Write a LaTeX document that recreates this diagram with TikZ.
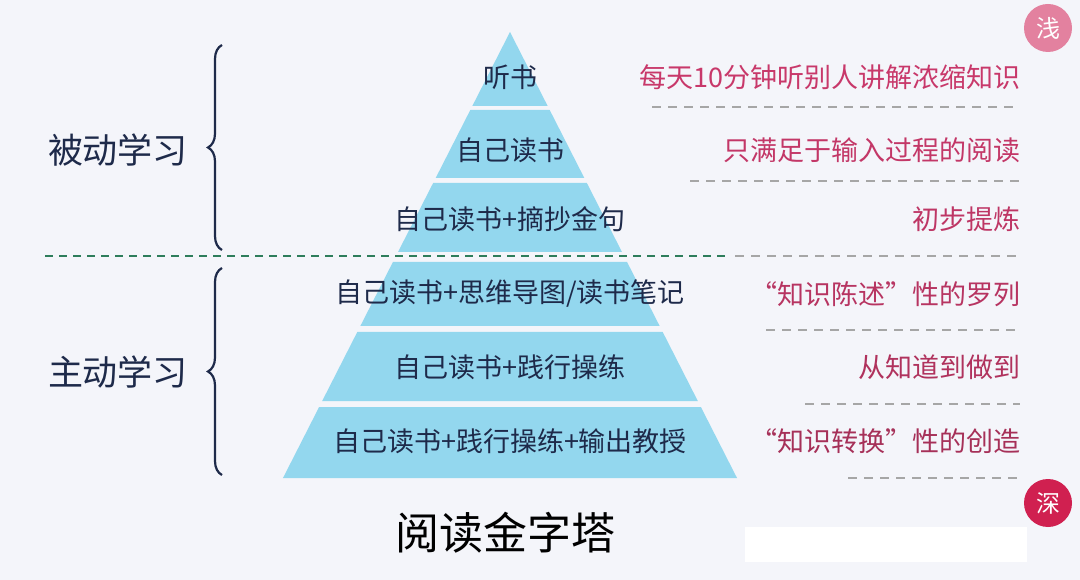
\documentclass[tikz,border=0pt]{standalone}
\usepackage{fontspec}
\setmainfont{Noto Sans CJK SC}
\usetikzlibrary{decorations.pathreplacing}
\definecolor{bg}{HTML}{F4F5FA}
\definecolor{pyr}{HTML}{93D7EE}
\definecolor{navy}{HTML}{1E2A4A}
\definecolor{rtop}{HTML}{C8386A}
\definecolor{rbot}{HTML}{A63058}
\definecolor{gdash}{HTML}{2E7D5B}
\definecolor{cpink}{HTML}{E3819F}
\definecolor{cred}{HTML}{D02050}
\begin{document}
\begin{tikzpicture}[x=1pt,y=-1pt,
  lvl/.style={font=\fontsize{27}{29}\selectfont,text=navy},
  rt/.style={font=\fontsize{27}{29}\selectfont,anchor=east},
  sep/.style={draw=gray!70,dash pattern=on 9pt off 7pt,line width=1.6pt},
  side/.style={font=\fontsize{35}{37}\selectfont,text=navy},
  br/.style={decorate,decoration={brace,amplitude=14pt},draw=navy,line width=2.2pt}]
\fill[bg] (0,0) rectangle (1080,580);
\useasboundingbox (0,0) rectangle (1080,580);
\foreach \a/\b in {32/106,110/178,183/252,262/326,332/401,407/478}{
  \pgfmathsetmacro\ha{0.509*(\a-32)}
  \pgfmathsetmacro\hb{0.509*(\b-32)}
  \fill[pyr] (510-\ha,\a) -- (510+\ha,\a) -- (510+\hb,\b) -- (510-\hb,\b) -- cycle;}
\node[lvl] (l1) at (510,77) {听书};
\node[lvl] (l2) at (510,150) {自己读书};
\node[lvl] (l3) at (510,219) {自己读书+摘抄金句};
\node[lvl] (l4) at (510,294) {自己读书+思维导图/读书笔记};
\node[lvl] (l5) at (510,367) {自己读书+践行操练};
\node[lvl] (l6) at (510,441) {自己读书+践行操练+输出教授};
\node[rt,text=rtop] (r1) at (1024,77) {每天10分钟听别人讲解浓缩知识};
\node[rt,text=rtop!85!rbot] (r2) at (1024,150) {只满足于输入过程的阅读};
\node[rt,text=rtop!70!rbot] (r3) at (1024,219) {初步提炼};
\node[rt,text=rtop!50!rbot] (r4) at (1024,294) {“知识陈述”性的罗列};
\node[rt,text=rtop!30!rbot] (r5) at (1024,367) {从知道到做到};
\node[rt,text=rbot] (r6) at (1024,441) {“知识转换”性的创造};
\draw[sep] (652,107) -- (1020,107);
\draw[sep] (690,181) -- (1020,181);
\draw[sep] (735,256) -- (1020,256);
\draw[sep] (766,330) -- (1020,330);
\draw[sep] (805,404) -- (1020,404);
\draw[sep] (848,478) -- (1020,478);
\draw[draw=gdash,dash pattern=on 8pt off 6pt,line width=1.8pt] (45,256) -- (725,256);
\draw[br] (222,250) -- (222,45);
\draw[br] (222,475) -- (222,268);
\node[side] (s1) at (118,150) {被动学习};
\node[side] (s2) at (118,372) {主动学习};
\node[circle,fill=cpink,minimum size=48pt,inner sep=0pt,text=white,font=\fontsize{24}{26}\selectfont] (c1) at (1048,28) {浅};
\node[circle,fill=cred,minimum size=48pt,inner sep=0pt,text=white,font=\fontsize{24}{26}\selectfont] (c2) at (1048,503) {深};
\fill[white] (745,527) rectangle (1027,562);
\node[font=\fontsize{44}{46}\selectfont,text=black] (title) at (505,533) {阅读金字塔};
\end{tikzpicture}
\end{document}
